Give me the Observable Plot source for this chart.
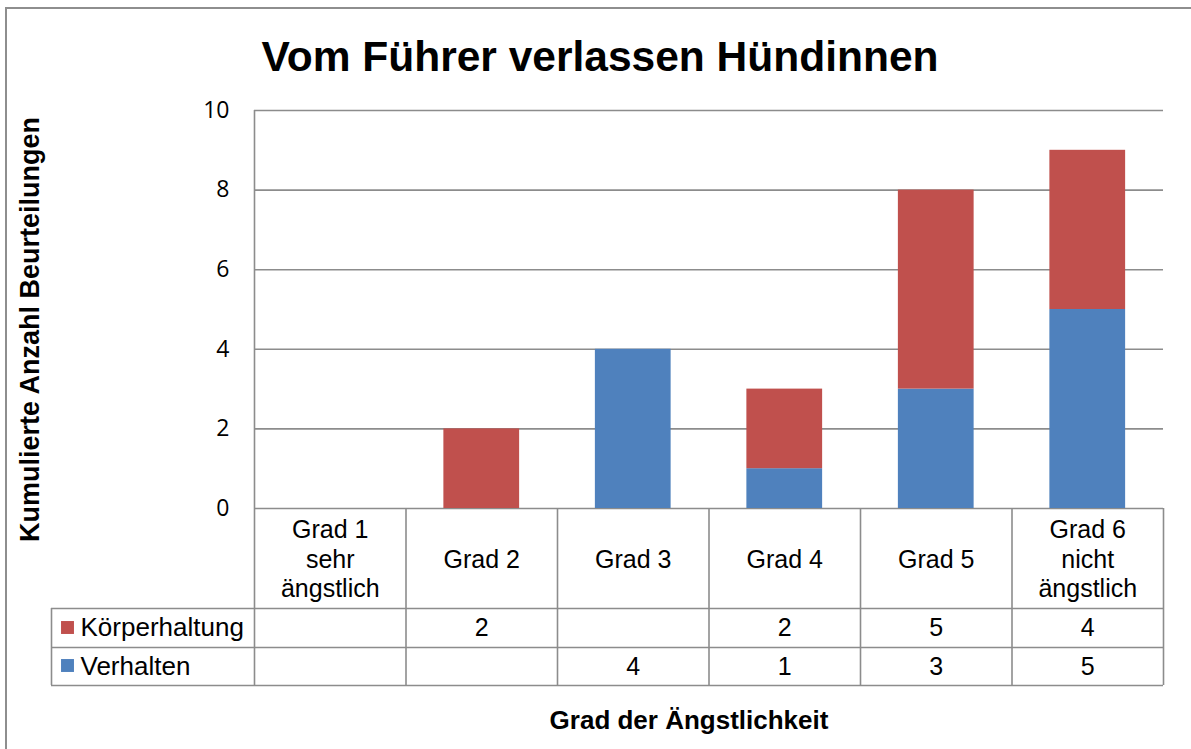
<!DOCTYPE html>
<html><head><meta charset="utf-8">
<script src="https://cdn.jsdelivr.net/npm/d3@7"></script>
<script src="https://cdn.jsdelivr.net/npm/@observablehq/plot@0.6"></script>
<style>
html,body{margin:0;padding:0;background:#fff;overflow:hidden;}
#wrap{position:relative;width:1191px;height:749px;overflow:hidden;background:#fff;}
#wrap svg{position:absolute;left:0;top:0;}
#border{position:absolute;left:5px;top:7px;width:1300px;height:900px;border:2px solid #8e8e8e;box-sizing:border-box;pointer-events:none;}
</style></head><body>
<div id="wrap"><div id="border"></div></div>
<script>
const title = "Vom Führer verlassen Hündinnen";
const yTitle = "Kumulierte Anzahl Beurteilungen";
const xTitle = "Grad der Ängstlichkeit";
const categories = ["Grad 1\nsehr\nängstlich", "Grad 2", "Grad 3", "Grad 4", "Grad 5", "Grad 6\nnicht\nängstlich"];
const seriesNames = ["Körperhaltung", "Verhalten"];
const seriesColors = ["#C0504D", "#4F81BD"];
const koerperhaltung = [null, 2, null, 2, 5, 4];
const verhalten = [null, null, 4, 1, 3, 5];
const yTicks = [0, 2, 4, 6, 8, 10];

// tidy table for stacked bars (Verhalten at the bottom)
const bars = [];
categories.forEach((c, i) => { if (verhalten[i] != null) bars.push({grad: c, series: "Verhalten", value: verhalten[i]}); });
categories.forEach((c, i) => { if (koerperhaltung[i] != null) bars.push({grad: c, series: "Körperhaltung", value: koerperhaltung[i]}); });

const W = 1191, H = 749, mL = 254, mR = 28, mT = 110, mB = 241;
const bw = (W - mL - mR) / categories.length;
const gray = "#8c8c8c";
const sans = "'Liberation Sans', Arial, sans-serif";
const tableFont = 25;
const leftCol = 203;      // width of the series-name column
const row1 = 100, row2 = 139, row3 = 177; // table row lines below the zero line
const tableBottom = row3;

const txt = {fontFamily: sans, fontSize: tableFont, fill: "#000"};
const legTxt = {fontFamily: sans, fontSize: 26, fill: "#000"};

const chart = Plot.plot({
  width: W, height: H,
  marginLeft: mL, marginRight: mR, marginTop: mT, marginBottom: mB,
  style: {background: "transparent", overflow: "visible", fontFamily: sans},
  x: {domain: categories, padding: 0, round: false, axis: null},
  y: {domain: [0, 10], axis: null},
  color: {domain: seriesNames, range: seriesColors},
  marks: [
    // gridlines
    Plot.ruleY(yTicks, {y: d => d, stroke: gray, strokeWidth: 1.6}),
    // stacked bars
    Plot.barY(bars, {x: "grad", y: "value", fill: "series", insetLeft: bw / 4, insetRight: bw / 4}),
    // y tick labels
    Plot.text(yTicks, {y: d => d, text: d => String(d), frameAnchor: "left", dx: -25, textAnchor: "end",
      fontFamily: "'Open Sans', sans-serif", fontSize: 23, fill: "#000"}),
    // left axis line (continues down through the table)
    Plot.ruleX([categories[0]], {x: d => d, dx: -bw / 2, insetBottom: -tableBottom, stroke: gray, strokeWidth: 1.6}),
    // column separators of the data table
    Plot.ruleX(categories.slice(1), {x: d => d, dx: -bw / 2, insetTop: H - mT - mB, insetBottom: -tableBottom, stroke: gray, strokeWidth: 1.6}),
    Plot.ruleX([categories[categories.length - 1]], {x: d => d, dx: bw / 2, insetTop: H - mT - mB, insetBottom: -tableBottom, stroke: gray, strokeWidth: 1.6}),
    // left edge of the series-name column
    Plot.ruleX([categories[0]], {x: d => d, dx: -bw / 2 - leftCol, insetTop: H - mT - mB + row1, insetBottom: -tableBottom, stroke: gray, strokeWidth: 1.6}),
    // table row lines
    Plot.ruleY([0], {y: d => d, dy: row1, insetLeft: -leftCol, stroke: gray, strokeWidth: 1.6}),
    Plot.ruleY([0], {y: d => d, dy: row2, insetLeft: -leftCol, stroke: gray, strokeWidth: 1.6}),
    Plot.ruleY([0], {y: d => d, dy: row3, insetLeft: -leftCol, stroke: gray, strokeWidth: 1.6}),
    // category labels (table header)
    Plot.text(categories, {x: d => d, text: d => d, frameAnchor: "bottom", dy: row1 / 2, lineAnchor: "middle", lineHeight: 1.18, ...txt}),
    // table values
    Plot.text(categories, {x: d => d, text: (d, i) => koerperhaltung[i] == null ? "" : String(koerperhaltung[i]), frameAnchor: "bottom", dy: (row1 + row2) / 2, lineAnchor: "middle", ...txt}),
    Plot.text(categories, {x: d => d, text: (d, i) => verhalten[i] == null ? "" : String(verhalten[i]), frameAnchor: "bottom", dy: (row2 + row3) / 2, lineAnchor: "middle", ...txt}),
    // legend keys + series names
    Plot.dot([seriesNames[0]], {frameAnchor: "bottom-left", dx: -187, dy: (row1 + row2) / 2 - 0.5, symbol: "square", r: 7.3, fill: seriesColors[0], stroke: "none"}),
    Plot.dot([seriesNames[1]], {frameAnchor: "bottom-left", dx: -187, dy: (row2 + row3) / 2 - 1, symbol: "square", r: 7.3, fill: seriesColors[1], stroke: "none"}),
    Plot.text([seriesNames[0]], {text: d => d, frameAnchor: "bottom-left", dx: -174, dy: (row1 + row2) / 2, textAnchor: "start", lineAnchor: "middle", ...legTxt}),
    Plot.text([seriesNames[1]], {text: d => d, frameAnchor: "bottom-left", dx: -174, dy: (row2 + row3) / 2, textAnchor: "start", lineAnchor: "middle", ...legTxt}),
    // titles
    Plot.text([title], {text: d => d, frameAnchor: "top", dx: -109, dy: -53.5, textAnchor: "middle", lineAnchor: "middle", fontFamily: sans, fontSize: 42.5, fontWeight: "bold", fill: "#000"}),
    Plot.text([yTitle], {text: d => d, frameAnchor: "left", dx: -224, dy: 20, rotate: -90, textAnchor: "middle", lineAnchor: "middle", fontFamily: sans, fontSize: 27, fontWeight: "bold", fill: "#000"}),
    Plot.text([xTitle], {text: d => d, frameAnchor: "bottom", dx: -20, dy: 212, textAnchor: "middle", lineAnchor: "middle", fontFamily: sans, fontSize: 26, fontWeight: "bold", fill: "#000"})
  ]
});
document.getElementById("wrap").insertBefore(chart, document.getElementById("border"));
</script>
</body></html>
